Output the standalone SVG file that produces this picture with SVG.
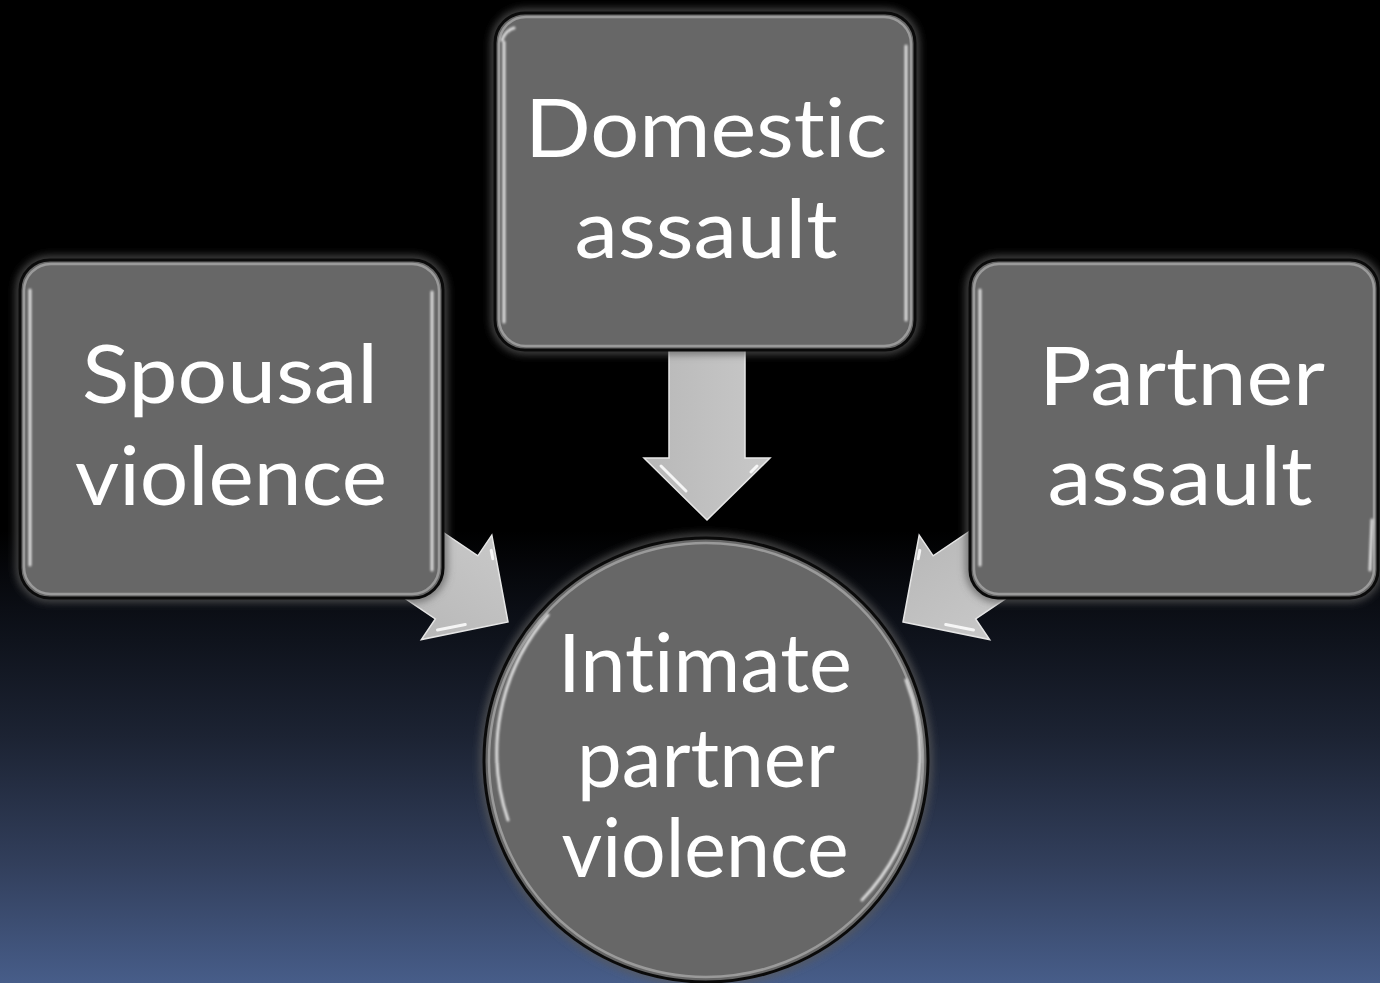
<svg xmlns="http://www.w3.org/2000/svg" width="1380" height="983" viewBox="0 0 1380 983">
<defs>
<linearGradient id="bg" x1="0" y1="0" x2="0" y2="983" gradientUnits="userSpaceOnUse">
<stop offset="0" stop-color="#000000"/>
<stop offset="0.54" stop-color="#000000"/>
<stop offset="0.62" stop-color="#0b0e15"/>
<stop offset="0.75" stop-color="#1c2333"/>
<stop offset="0.88" stop-color="#323f5c"/>
<stop offset="1" stop-color="#475d89"/>
</linearGradient>
<linearGradient id="arrowFill" x1="0" y1="0" x2="0" y2="1">
<stop offset="0" stop-color="#c8c8c8"/>
<stop offset="1" stop-color="#b8b8b8"/>
</linearGradient>
<filter id="glow" x="-10%" y="-10%" width="120%" height="120%">
<feGaussianBlur stdDeviation="4"/>
</filter>
<filter id="soft" x="-10%" y="-10%" width="120%" height="120%">
<feGaussianBlur stdDeviation="1"/>
</filter>
<style>
.halo{fill:none;stroke:#5a5a5a;stroke-width:7;filter:url(#glow)}
.node{fill:#676767;stroke:#0a0a0a;stroke-width:3}
.rim{fill:none;stroke:#9a9a9a;stroke-width:2.5}
.hl{fill:none;stroke:#f2f2f2;stroke-width:3;stroke-linecap:round;filter:url(#soft);opacity:0.85}
.arrow{fill:url(#arrowFill);stroke:#e6e6e6;stroke-width:1.5}
.bevel{fill:none;stroke:#ffffff;stroke-width:3;stroke-linecap:round;opacity:0.85}
.lbl{font-family:Lato,"Open Sans","Liberation Sans",sans-serif;font-size:82px;fill:#ffffff;text-anchor:middle;font-variant-ligatures:none;font-feature-settings:"liga" 0,"clig" 0,"dlig" 0}
</style>
</defs>
<rect x="0" y="0" width="1380" height="983" fill="url(#bg)"/>

<g id="connectors">
<g id="arrow-top" transform="translate(707,520) rotate(90)">
<path class="arrow" d="M0,0 L-62,-63 L-62,-38 L-172,-38 L-172,38 L-62,38 L-62,63 Z"/>
<path class="bevel" d="M-54,46 L-29,21 M-54,-50 L-48,-44"/>
</g>
<g id="arrow-left" transform="translate(508,622) rotate(34)">
<path class="arrow" d="M0,0 L-62,-63 L-62,-38 L-172,-38 L-172,38 L-62,38 L-62,63 Z"/>
<path class="bevel" d="M-54,46 L-34,26 M-54,-50 L-48,-44"/>
</g>
<g id="arrow-right" transform="translate(903,622) rotate(146)">
<path class="arrow" d="M0,0 L-62,-63 L-62,-38 L-172,-38 L-172,38 L-62,38 L-62,63 Z"/>
<path class="bevel" d="M-54,-46 L-34,-26 M-54,50 L-48,44"/>
</g>
</g>

<g id="node-domestic">
<rect class="halo" x="495" y="13" width="420" height="337" rx="30"/>
<rect class="node" x="495" y="13" width="420" height="337" rx="30"/>
<rect class="rim" x="499" y="17" width="412" height="329" rx="27"/>
<path class="hl" d="M504,42 L504,322 M906,46 L906,320 M502,40 Q506,30 514,28"/>
<text class="lbl" x="706" y="157" textLength="362" lengthAdjust="spacingAndGlyphs">Domestic</text>
<text class="lbl" x="706" y="258" textLength="263" lengthAdjust="spacingAndGlyphs">assault</text>
</g>

<g id="node-spousal">
<rect class="halo" x="20" y="260" width="423" height="338" rx="30"/>
<rect class="node" x="20" y="260" width="423" height="338" rx="30"/>
<rect class="rim" x="24" y="264" width="415" height="330" rx="27"/>
<path class="hl" d="M30,290 L30,565 M432,292 L432,570"/>
<text class="lbl" x="230" y="403" textLength="296" lengthAdjust="spacingAndGlyphs">Spousal</text>
<text class="lbl" x="231" y="505" textLength="312" lengthAdjust="spacingAndGlyphs">violence</text>
</g>

<g id="node-partner">
<rect class="halo" x="970" y="260" width="408" height="338" rx="28"/>
<rect class="node" x="970" y="260" width="408" height="338" rx="28"/>
<rect class="rim" x="974" y="264" width="400" height="330" rx="25"/>
<path class="hl" d="M980,290 L980,565 M1372,520 L1370,570"/>
<text class="lbl" x="1182" y="405" textLength="286" lengthAdjust="spacingAndGlyphs">Partner</text>
<text class="lbl" x="1180" y="505" textLength="265" lengthAdjust="spacingAndGlyphs">assault</text>
</g>

<g id="node-ipv">
<circle class="halo" cx="706" cy="760" r="222"/>
<circle class="node" cx="706" cy="760" r="222"/>
<circle class="rim" cx="706" cy="760" r="217"/>
<path class="hl" d="M548,615 A210,210 0 0 0 508,820 M906,680 A210,210 0 0 1 862,900"/>
<text class="lbl" x="705" y="692" textLength="294" lengthAdjust="spacingAndGlyphs">Intimate</text>
<text class="lbl" x="706" y="787" textLength="258" lengthAdjust="spacingAndGlyphs">partner</text>
<text class="lbl" x="705" y="877" textLength="287" lengthAdjust="spacingAndGlyphs">violence</text>
</g>
</svg>
